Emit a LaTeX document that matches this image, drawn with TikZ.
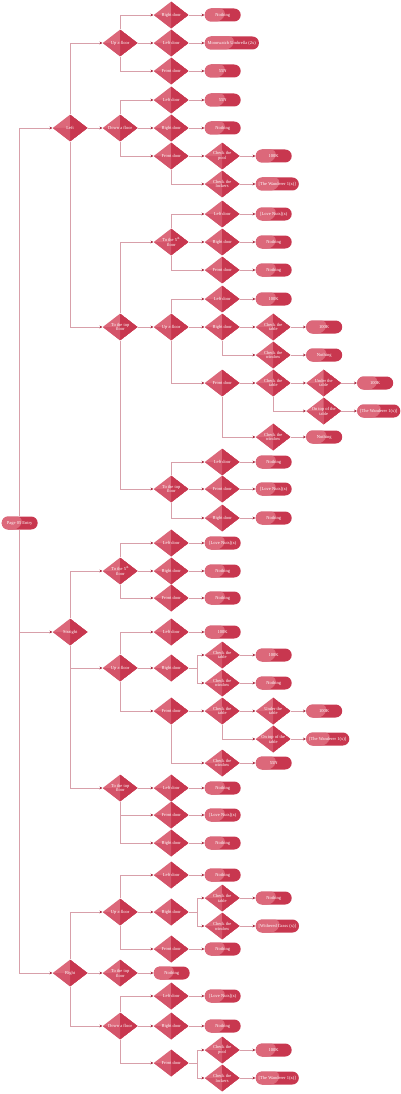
\documentclass[tikz,border=0pt]{standalone}
\usepackage{fontspec}
\setmainfont{Liberation Serif}
\usepackage{xcolor}
\usepackage{tikz}
\usetikzlibrary{shapes.geometric}
\usetikzlibrary{arrows.meta}
\definecolor{roselite}{HTML}{DC687A}
\definecolor{rosemid}{HTML}{D4546A}
\definecolor{rosedark}{HTML}{C8374F}
\definecolor{rosewire}{HTML}{D8A0AA}
\definecolor{rosetip}{HTML}{A8263C}
\tikzset{
  choice/.style={shape=diamond, anchor=west, minimum width=35pt, minimum height=27pt, inner sep=-1.5pt, aspect=1.3,
    fill=roselite, text=white, align=center, font=\fontsize{4.5}{4.9}\selectfont,
    path picture={
      \fill[rosedark] (path picture bounding box.north) -- (path picture bounding box.east) -- (path picture bounding box.south) -- cycle;
      \fill[rosemid] (path picture bounding box.west) -- (path picture bounding box.center) -- (path picture bounding box.south) -- cycle;
    }},
  loot/.style={rectangle, rounded corners=6.5pt, anchor=west, minimum width=36pt, minimum height=13pt, inner xsep=3pt,
    fill=rosedark, text=white, font=\fontsize{4.5}{4.9}\selectfont,
    path picture={
      \fill[roselite] (path picture bounding box.north west) -- ([xshift=3.5pt]path picture bounding box.north) -- (path picture bounding box.south) -- (path picture bounding box.south west) -- cycle;
    }},
  wire/.style={rosewire, line width=.7pt, ->, >={Stealth[length=3pt,width=2.8pt,color=rosetip]}}
}
\begin{document}
\begin{tikzpicture}[x=1pt,y=-1pt]
\useasboundingbox (0,0) rectangle (400,1094);

\node[loot] (entry) at (1.5,523) {Page 05 Entry};
\node[choice] (left) at (52.5,128) {Left};
\node[choice] (straight) at (52.5,632) {Straight};
\node[choice] (right) at (52.5,973) {Right};

% left
\node[choice] (lup) at (102.5,43) {Up a floor};
\node[choice] (ldown) at (102.5,128) {Down a floor};
\node[choice] (ltop) at (102.5,327) {To the top\\floor};
\node[choice] (lupr) at (153.5,15) {Right door};
\node[choice] (lupl) at (153.5,43) {Left door};
\node[choice] (lupf) at (153.5,71) {Front door};
\node[loot] (luprx) at (204.5,15) {Nothing};
\node[loot] (luplx) at (204.5,43) {Moonwatch Umbrella (2x)};
\node[loot] (lupfx) at (204.5,71) {55N};
\node[choice] (ldl) at (153.5,100) {Left door};
\node[choice] (ldr) at (153.5,128) {Right door};
\node[choice] (ldf) at (153.5,156) {Front door};
\node[loot] (ldlx) at (204.5,100) {55N};
\node[loot] (ldrx) at (204.5,128) {Nothing};
\node[choice] (ldfp) at (204.5,156) {Check the\\pool};
\node[choice] (ldfk) at (204.5,184) {Check the\\lockers};
\node[loot] (ldfpx) at (255.5,156) {100K};
\node[loot] (ldfkx) at (255.5,184) {[The Wanderer 1(x)]};
\node[choice] (lfive) at (153.5,242) {To the 5\textsuperscript{th}\\floor};
\node[choice] (ltu) at (153.5,327) {Up a floor};
\node[choice] (ltt) at (153.5,489) {To the top\\floor};
\node[choice] (lfl) at (204.5,214) {Left door};
\node[choice] (lfr) at (204.5,242) {Right door};
\node[choice] (lff) at (204.5,270) {Front door};
\node[loot] (lflx) at (255.5,214) {[Love Nuts](x)};
\node[loot] (lfrx) at (255.5,242) {Nothing};
\node[loot] (lffx) at (255.5,270) {Nothing};
\node[choice] (ltul) at (204.5,299) {Left door};
\node[choice] (ltur) at (204.5,327) {Right door};
\node[choice] (ltuf) at (204.5,383) {Front door};
\node[loot] (ltulx) at (255.5,299) {100K};
\node[choice] (lturt) at (255.5,327) {Check the\\table};
\node[choice] (lturw) at (255.5,355) {Check the\\window};
\node[loot] (lturtx) at (306,327) {100K};
\node[loot] (lturwx) at (306,355) {Nothing};
\node[choice] (ltuft) at (255.5,383) {Check the\\table};
\node[choice] (ltufw) at (255.5,437) {Check the\\window};
\node[loot] (ltufwx) at (306,437) {Nothing};
\node[choice] (ltufu) at (306,383) {Under the\\table};
\node[choice] (ltufo) at (306,411) {On top of the\\table};
\node[loot] (ltufux) at (357,383) {100K};
\node[loot] (ltufox) at (357,411) {[The Wanderer 1(x)]};
\node[choice] (lttl) at (204.5,462) {Left door};
\node[choice] (lttf) at (204.5,489) {Front door};
\node[choice] (lttr) at (204.5,518) {Right door};
\node[loot] (lttlx) at (255.5,462) {Nothing};
\node[loot] (lttfx) at (255.5,489) {[Love Nuts](x)};
\node[loot] (lttrx) at (255.5,518) {Nothing};

% straight
\node[choice] (sfive) at (102.5,571) {To the 5\textsuperscript{th}\\floor};
\node[choice] (sup) at (102.5,668) {Up a floor};
\node[choice] (stop) at (102.5,788) {To the top\\floor};
\node[choice] (sfl) at (153.5,543) {Left door};
\node[choice] (sfr) at (153.5,571) {Right door};
\node[choice] (sff) at (153.5,598) {Front door};
\node[loot] (sflx) at (204.5,543) {[Love Nuts](x)};
\node[loot] (sfrx) at (204.5,571) {Nothing};
\node[loot] (sffx) at (204.5,598) {Nothing};
\node[choice] (sul) at (153.5,632) {Left door};
\node[choice] (sur) at (153.5,668) {Right door};
\node[choice] (suf) at (153.5,711) {Front door};
\node[loot] (sulx) at (204.5,632) {100K};
\node[choice] (surt) at (204.5,655) {Check the\\table};
\node[choice] (surw) at (204.5,683) {Check the\\window};
\node[loot] (surtx) at (255.5,655) {100K};
\node[loot] (surwx) at (255.5,683) {Nothing};
\node[choice] (suft) at (204.5,711) {Check the\\table};
\node[choice] (sufw) at (204.5,763) {Check the\\window};
\node[loot] (sufwx) at (255.5,763) {55N};
\node[choice] (sufu) at (255.5,711) {Under the\\table};
\node[choice] (sufo) at (255.5,739) {On top of the\\table};
\node[loot] (sufux) at (306,711) {100K};
\node[loot] (sufox) at (306,739) {[The Wanderer 1(x)]};
\node[choice] (stl) at (153.5,788) {Left door};
\node[choice] (stf) at (153.5,815) {Front door};
\node[choice] (str) at (153.5,843) {Right door};
\node[loot] (stlx) at (204.5,788) {Nothing};
\node[loot] (stfx) at (204.5,815) {[Love Nuts](x)};
\node[loot] (strx) at (204.5,843) {Nothing};

% right
\node[choice] (rup) at (102.5,912) {Up a floor};
\node[choice] (rtop) at (102.5,973) {To the top\\floor};
\node[choice] (rdown) at (102.5,1026) {Down a floor};
\node[loot] (rtopx) at (153.5,973) {Nothing};
\node[choice] (rul) at (153.5,875) {Left door};
\node[choice] (rur) at (153.5,912) {Right door};
\node[choice] (ruf) at (153.5,949) {Front door};
\node[loot] (rulx) at (204.5,875) {Nothing};
\node[loot] (rufx) at (204.5,949) {Nothing};
\node[choice] (rurt) at (204.5,898) {Check the\\table};
\node[choice] (rurw) at (204.5,926) {Check the\\window};
\node[loot] (rurtx) at (255.5,898) {Nothing};
\node[loot] (rurwx) at (255.5,926) {[Withered Grass (x)]};
\node[choice] (rdl) at (153.5,996) {Left door};
\node[choice] (rdr) at (153.5,1026) {Right door};
\node[choice] (rdf) at (153.5,1063) {Front door};
\node[loot] (rdlx) at (204.5,996) {[Love Nuts](x)};
\node[loot] (rdrx) at (204.5,1026) {Nothing};
\node[choice] (rdfp) at (204.5,1050) {Check the\\pool};
\node[choice] (rdfk) at (204.5,1078) {Check the\\lockers};
\node[loot] (rdfpx) at (255.5,1050) {100K};
\node[loot] (rdfkx) at (255.5,1078) {[The Wanderer 1(x)]};

% connectors
\draw[wire] (entry.north) |- (left.west);
\draw[wire] (entry.south) |- (straight.west);
\draw[wire] (entry.south) |- (right.west);
\foreach \a/\b in {left/ldown, lup/lupl, lupr/luprx, lupl/luplx, lupf/lupfx, ldown/ldr, ldl/ldlx, ldr/ldrx,
    ldf/ldfp, ldfp/ldfpx, ldfk/ldfkx, ltop/ltu, lfive/lfr, lfl/lflx, lfr/lfrx, lff/lffx, ltu/ltur, ltul/ltulx,
    ltur/lturt, lturt/lturtx, lturw/lturwx, ltuf/ltuft, ltuft/ltufu, ltufu/ltufux, ltufo/ltufox, ltufw/ltufwx,
    ltt/lttf, lttl/lttlx, lttf/lttfx, lttr/lttrx,
    sfive/sfr, sfl/sflx, sfr/sfrx, sff/sffx, sup/sur, sul/sulx, surt/surtx, surw/surwx, suf/suft, suft/sufu,
    sufu/sufux, sufo/sufox, sufw/sufwx, stop/stl, stl/stlx, stf/stfx, str/strx,
    right/rtop, rtop/rtopx, rup/rur, rul/rulx, rurt/rurtx, rurw/rurwx, ruf/rufx, rdown/rdr, rdl/rdlx, rdr/rdrx,
    rdfp/rdfpx, rdfk/rdfkx}
  \draw[wire] (\a.east) -- (\b.west);
\foreach \a/\b in {left/lup, lup/lupr, ldown/ldl, ltop/lfive, lfive/lfl, ltu/ltul, ltt/lttl,
    straight/sfive, sfive/sfl, sup/sul, right/rup, rup/rul, rdown/rdl}
  \draw[wire] (\a.north) |- (\b.west);
\foreach \a/\b in {left/ltop, lup/lupf, ldown/ldf, ldf/ldfk, ltop/ltt, lfive/lff, ltu/ltuf, ltur/lturw,
    ltuf/ltufw, ltuft/ltufo, ltt/lttr,
    straight/sup, straight/stop, sfive/sff, sup/suf, suf/sufw, suft/sufo, stop/stf, stop/str,
    right/rdown, rup/ruf, rdown/rdf}
  \draw[wire] (\a.south) |- (\b.west);
\foreach \a/\b in {sur/surt, sur/surw, rur/rurt, rur/rurw, rdf/rdfp, rdf/rdfk}
  \draw[wire] (\a.east) -- ++(8.5,0) |- (\b.west);
\end{tikzpicture}
\end{document}
